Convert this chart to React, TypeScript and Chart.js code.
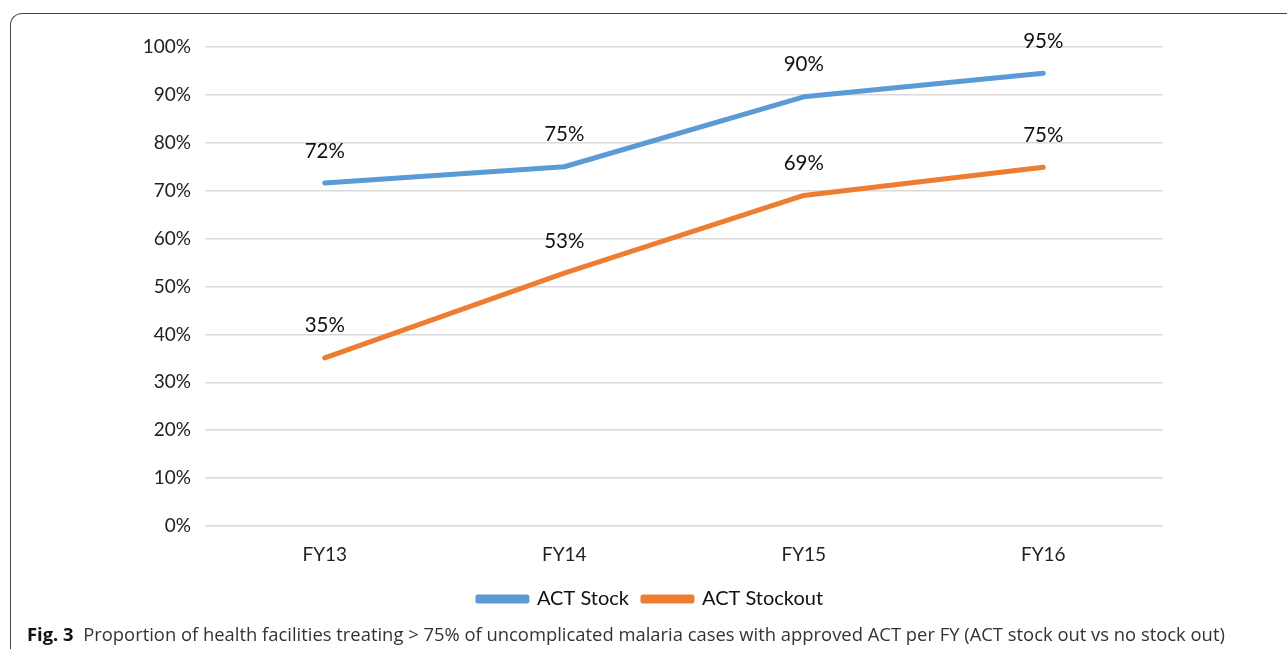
import React, { useEffect, useRef } from "react";
import { Chart, registerables } from "chart.js";

Chart.register(...registerables);

const categories = ["FY13", "FY14", "FY15", "FY16"];
const actStock = [71.6, 75, 89.6, 94.5];
const actStockout = [35.1, 52.8, 69, 74.9];
const stockLabels = ["72%", "75%", "90%", "95%"];
const stockoutLabels = ["35%", "53%", "69%", "75%"];
const yTicks = [0, 10, 20, 30, 40, 50, 60, 70, 80, 90, 100];

const FONT = "Lato, 'Open Sans', sans-serif";

const labelPlugin = {
  id: "pointLabels",
  afterDatasetsDraw(chart: any) {
    const ctx = chart.ctx;
    const all = [stockLabels, stockoutLabels];
    ctx.save();
    ctx.font = `20.5px ${FONT}`;
    ctx.fillStyle = "#111";
    ctx.textAlign = "center";
    ctx.textBaseline = "middle";
    chart.data.datasets.forEach((ds: any, i: number) => {
      const meta = chart.getDatasetMeta(i);
      meta.data.forEach((pt: any, j: number) => {
        ctx.fillText(all[i][j], pt.x, pt.y - 32);
      });
    });
    ctx.restore();
  },
};

export default function App() {
  const ref = useRef<HTMLCanvasElement>(null);
  useEffect(() => {
    const chart = new Chart(ref.current!, {
      type: "line",
      data: {
        labels: categories,
        datasets: [
          {
            label: "ACT Stock",
            data: actStock,
            borderColor: "#5b9bd5",
            backgroundColor: "#5b9bd5",
            borderWidth: 5,
            pointRadius: 0,
            borderCapStyle: "round",
            borderJoinStyle: "round",
            tension: 0,
          },
          {
            label: "ACT Stockout",
            data: actStockout,
            borderColor: "#ed7d31",
            backgroundColor: "#ed7d31",
            borderWidth: 5,
            pointRadius: 0,
            borderCapStyle: "round",
            borderJoinStyle: "round",
            tension: 0,
          },
        ],
      },
      options: {
        animation: false,
        responsive: false,
        layout: { padding: { left: 0, right: 0, top: 47, bottom: 3 } },
        plugins: {
          tooltip: { enabled: false },
          legend: {
            position: "bottom",
            labels: {
              boxWidth: 49,
              boxHeight: 4,
              padding: 14,
              color: "#111",
              font: { family: FONT, size: 20 },
            },
          },
        },
        scales: {
          x: {
            offset: true,
            grid: { display: false },
            border: { display: false },
            ticks: { color: "#222", font: { family: FONT, size: 19 }, padding: 9 },
            afterFit: (s: any) => {
              s.height = 49;
            },
          },
          y: {
            min: 0,
            max: 100,
            afterBuildTicks: (s: any) => {
              s.ticks = yTicks.map((v) => ({ value: v }));
            },
            grid: { color: "#d9d9d9", lineWidth: 1.5, drawTicks: false },
            border: { display: false },
            ticks: {
              color: "#222",
              font: { family: FONT, size: 19 },
              padding: 14,
              callback: (v: any) => v + "%",
            },
            afterFit: (s: any) => {
              s.width = 191;
            },
          },
          yRight: {
            position: "right",
            min: 0,
            max: 100,
            grid: { display: false, drawOnChartArea: false },
            border: { display: false },
            ticks: { display: false },
            afterFit: (s: any) => {
              s.width = 124;
            },
          },
        },
      },
      plugins: [labelPlugin],
    });
    return () => chart.destroy();
  }, []);

  return (
    <div style={{ position: "absolute", left: 0, top: 0, width: 1287, height: 649, overflow: "hidden", background: "#fff" }}>
      <div
        style={{
          position: "absolute",
          left: 10,
          top: 13,
          width: 1300,
          height: 700,
          borderLeft: "1.5px solid #444",
          borderTop: "1.5px solid #444",
          borderTopLeftRadius: 12,
        }}
      />
      <canvas ref={ref} width={1273} height={622} style={{ position: "absolute", left: 14, top: 0 }} />
      <div
        style={{
          position: "absolute",
          left: 27,
          top: 621,
          fontFamily: "'Open Sans', sans-serif",
          fontSize: 18.4,
          color: "#333",
          whiteSpace: "nowrap",
        }}
      >
        <b style={{ color: "#111" }}>Fig. 3</b>&nbsp;&nbsp;Proportion of health facilities treating &gt; 75% of uncomplicated malaria cases with approved ACT per FY (ACT stock out vs no stock out)
      </div>
    </div>
  );
}
